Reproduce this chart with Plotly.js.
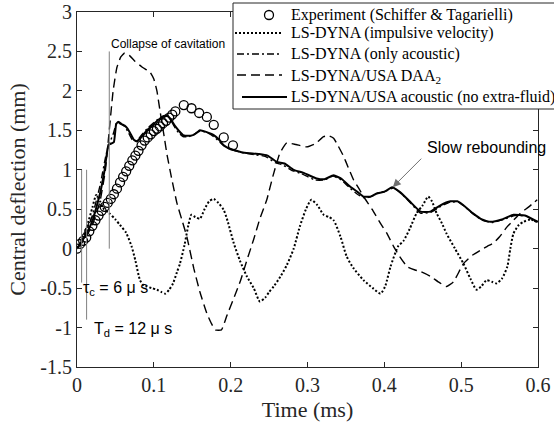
<!DOCTYPE html>
<html>
<head>
<meta charset="utf-8">
<script src="https://cdn.plot.ly/plotly-3.0.1.min.js"></script>
<style>
  html, body { margin: 0; padding: 0; background: #fff; }
  #chart { width: 554px; height: 430px; }
</style>
</head>
<body>
<div id="chart"></div>
<script>
// ---- Data ----
const seriesNames = [
  "Experiment (Schiffer &amp; Tagarielli)",
  "LS-DYNA (impulsive velocity)",
  "LS-DYNA (only acoustic)",
  "LS-DYNA/USA DAA<sub>2</sub>",
  "LS-DYNA/USA acoustic (no extra-fluid)"
];

const expT = [0, 0.004, 0.008, 0.012, 0.016, 0.020, 0.024, 0.028, 0.032, 0.036, 0.040, 0.044, 0.048, 0.052, 0.056, 0.060, 0.064, 0.068, 0.072, 0.076, 0.080, 0.084, 0.088, 0.092, 0.096, 0.100, 0.104, 0.108, 0.112, 0.116, 0.120, 0.124, 0.128, 0.139, 0.149, 0.159, 0.169, 0.178, 0.191, 0.203];
const expY = [0, 0.06, 0.10, 0.14, 0.22, 0.29, 0.36, 0.42, 0.48, 0.53, 0.58, 0.63, 0.69, 0.76, 0.84, 0.91, 0.98, 1.05, 1.12, 1.18, 1.24, 1.31, 1.37, 1.41, 1.45, 1.49, 1.52, 1.55, 1.59, 1.62, 1.66, 1.70, 1.74, 1.82, 1.78, 1.72, 1.67, 1.57, 1.41, 1.31];

const impT = [0, 0.008, 0.015, 0.020, 0.025, 0.030, 0.035, 0.042, 0.050, 0.056, 0.064, 0.071, 0.076, 0.082, 0.087, 0.091, 0.097, 0.104, 0.110, 0.115, 0.120, 0.125, 0.130, 0.134, 0.140, 0.145, 0.149, 0.154, 0.160, 0.166, 0.172, 0.178, 0.184, 0.191, 0.196, 0.204, 0.212, 0.221, 0.230, 0.238, 0.245, 0.250, 0.256, 0.265, 0.273, 0.282, 0.290, 0.298, 0.305, 0.313, 0.321, 0.328, 0.334, 0.343, 0.351, 0.360, 0.373, 0.385, 0.395, 0.401, 0.408, 0.418, 0.425, 0.433, 0.442, 0.450, 0.457, 0.462, 0.468, 0.475, 0.481, 0.492, 0.503, 0.512, 0.520, 0.526, 0.533, 0.540, 0.546, 0.553, 0.560, 0.564, 0.568, 0.575, 0.581, 0.590, 0.599];
const impY = [0, 0.15, 0.35, 0.52, 0.68, 0.60, 0.50, 0.45, 0.37, 0.30, 0.20, 0.03, -0.15, -0.40, -0.47, -0.48, -0.50, -0.52, -0.55, -0.57, -0.52, -0.44, -0.30, -0.19, 0.05, 0.30, 0.43, 0.40, 0.38, 0.50, 0.60, 0.63, 0.58, 0.49, 0.35, 0.07, -0.15, -0.35, -0.50, -0.67, -0.62, -0.55, -0.48, -0.35, -0.21, 0.00, 0.28, 0.50, 0.62, 0.55, 0.43, 0.40, 0.36, 0.15, -0.10, -0.25, -0.40, -0.50, -0.57, -0.48, -0.23, 0.03, 0.10, 0.25, 0.45, 0.55, 0.66, 0.60, 0.45, 0.32, 0.19, 0.00, -0.19, -0.38, -0.52, -0.48, -0.40, -0.42, -0.44, -0.38, -0.23, 0.00, 0.19, 0.30, 0.34, 0.37, 0.34];

const acoT = [0, 0.010, 0.020, 0.030, 0.038, 0.042, 0.047, 0.052, 0.057, 0.062, 0.067, 0.072, 0.078, 0.084, 0.091, 0.100, 0.108, 0.114, 0.120, 0.126, 0.132, 0.138, 0.145, 0.151, 0.157, 0.162, 0.170, 0.178, 0.186, 0.193, 0.200, 0.210, 0.220, 0.232, 0.245, 0.258, 0.268, 0.280, 0.292, 0.310, 0.322, 0.333, 0.344, 0.355, 0.365, 0.375, 0.385, 0.393, 0.402, 0.412, 0.422, 0.435, 0.447, 0.460, 0.474, 0.486, 0.496, 0.505, 0.517, 0.528, 0.540, 0.555, 0.570, 0.585, 0.600];
const acoY = [0, 0.18, 0.42, 0.80, 1.20, 1.33, 1.45, 1.60, 1.58, 1.55, 1.47, 1.38, 1.37, 1.44, 1.52, 1.60, 1.66, 1.69, 1.66, 1.56, 1.47, 1.42, 1.42, 1.44, 1.48, 1.49, 1.47, 1.42, 1.35, 1.29, 1.26, 1.23, 1.21, 1.19, 1.17, 1.09, 1.06, 0.99, 0.95, 0.87, 0.87, 0.92, 0.87, 0.77, 0.69, 0.64, 0.67, 0.71, 0.73, 0.77, 0.70, 0.57, 0.45, 0.46, 0.54, 0.59, 0.59, 0.53, 0.43, 0.36, 0.33, 0.37, 0.42, 0.41, 0.32];

const daaT = [0, 0.010, 0.020, 0.030, 0.037, 0.042, 0.047, 0.052, 0.057, 0.062, 0.068, 0.075, 0.085, 0.095, 0.100, 0.104, 0.108, 0.113, 0.117, 0.123, 0.130, 0.137, 0.143, 0.152, 0.160, 0.169, 0.175, 0.180, 0.188, 0.195, 0.204, 0.213, 0.221, 0.230, 0.238, 0.247, 0.255, 0.264, 0.273, 0.285, 0.299, 0.310, 0.321, 0.328, 0.334, 0.340, 0.347, 0.353, 0.360, 0.367, 0.373, 0.384, 0.395, 0.403, 0.412, 0.420, 0.430, 0.440, 0.447, 0.460, 0.470, 0.481, 0.490, 0.503, 0.515, 0.525, 0.534, 0.542, 0.550, 0.560, 0.568, 0.577, 0.588, 0.599];
const daaY = [0, 0.12, 0.30, 0.60, 1.00, 1.50, 2.00, 2.30, 2.43, 2.48, 2.45, 2.38, 2.30, 2.24, 2.15, 2.00, 1.75, 1.45, 1.20, 0.90, 0.58, 0.35, 0.15, -0.25, -0.55, -0.82, -0.95, -1.03, -1.03, -0.85, -0.63, -0.40, -0.15, 0.12, 0.38, 0.62, 0.92, 1.21, 1.34, 1.32, 1.29, 1.33, 1.42, 1.43, 1.40, 1.30, 1.17, 1.03, 0.87, 0.76, 0.66, 0.50, 0.32, 0.20, 0.03, -0.10, -0.23, -0.27, -0.29, -0.35, -0.42, -0.48, -0.42, -0.19, -0.08, -0.02, 0.03, 0.07, 0.15, 0.28, 0.36, 0.45, 0.53, 0.62];

const usaT = [0, 0.010, 0.020, 0.030, 0.036, 0.041, 0.044, 0.048, 0.051, 0.054, 0.058, 0.062, 0.066, 0.070, 0.074, 0.078, 0.084, 0.091, 0.100, 0.108, 0.117, 0.122, 0.128, 0.133, 0.138, 0.145, 0.151, 0.156, 0.160, 0.168, 0.178, 0.185, 0.191, 0.198, 0.204, 0.215, 0.225, 0.237, 0.248, 0.260, 0.270, 0.282, 0.295, 0.312, 0.322, 0.334, 0.345, 0.355, 0.365, 0.373, 0.382, 0.390, 0.400, 0.410, 0.420, 0.433, 0.447, 0.460, 0.473, 0.486, 0.495, 0.503, 0.515, 0.527, 0.538, 0.553, 0.568, 0.583, 0.600];
const usaY = [0, 0.15, 0.35, 0.70, 1.00, 1.32, 1.33, 1.35, 1.58, 1.61, 1.58, 1.56, 1.52, 1.45, 1.38, 1.36, 1.42, 1.50, 1.58, 1.65, 1.69, 1.64, 1.55, 1.49, 1.44, 1.43, 1.44, 1.47, 1.50, 1.48, 1.44, 1.38, 1.31, 1.27, 1.25, 1.22, 1.21, 1.20, 1.18, 1.10, 1.08, 1.00, 0.96, 0.89, 0.88, 0.93, 0.88, 0.79, 0.72, 0.66, 0.66, 0.70, 0.72, 0.78, 0.72, 0.60, 0.47, 0.47, 0.55, 0.60, 0.60, 0.55, 0.45, 0.37, 0.34, 0.37, 0.43, 0.42, 0.34];

const xTickVals = [0, 0.1, 0.2, 0.3, 0.4, 0.5, 0.6];
const xTickText = ["0", "0.1", "0.2", "0.3", "0.4", "0.5", "0.6"];
const yTickVals = [-1.5, -1, -0.5, 0, 0.5, 1, 1.5, 2, 2.5, 3];
const yTickText = ["-1.5", "-1", "-0.5", "0", "0.5", "1", "1.5", "2", "2.5", "3"];

// ---- Styles ----
const serif = "Liberation Serif, Times New Roman, serif";
const sans = "Liberation Sans, Arial, sans-serif";
const DOT = "2px,2px", DASHDOT = "7px,3px,2px,3px", DASH = "9px,5px";

const traces = [
  { x: expT, y: expY, name: seriesNames[0], type: "scatter", mode: "markers",
    marker: { symbol: "circle-open", size: 9, color: "#000", line: { width: 1.3, color: "#000" } } },
  { x: impT, y: impY, name: seriesNames[1], type: "scatter", mode: "lines",
    line: { color: "#000", width: 2, dash: DOT, shape: "spline", smoothing: 0.6 } },
  { x: acoT, y: acoY, name: seriesNames[2], type: "scatter", mode: "lines",
    line: { color: "#000", width: 1.4, dash: DASHDOT, shape: "spline", smoothing: 0.4 } },
  { x: daaT, y: daaY, name: seriesNames[3], type: "scatter", mode: "lines",
    line: { color: "#000", width: 1.4, dash: DASH, shape: "spline", smoothing: 0.4 } },
  { x: usaT, y: usaY, name: seriesNames[4], type: "scatter", mode: "lines",
    line: { color: "#000", width: 2, shape: "spline", smoothing: 0.4 } }
];

// ---- Layout geometry (plot area in pixels) ----
const M = { l: 77, r: 16, t: 12, b: 63 };
const W = 554 - M.l - M.r, H = 430 - M.t - M.b;
const fx = px => (px - M.l) / W;
const fy = py => 1 - (py - M.t) / H;

// custom legend box (drawn with shapes + annotations)
const legRows = [15, 33, 54, 75, 97];
const legSample = [[0, 0], [235, 281], [237, 282], [237, 282], [242, 287]];
const legDash = [null, DOT, DASHDOT, DASH, "solid"];
const legWidth = [0, 2, 1.4, 1.4, 2];

const shapes = [
  { type: "line", xref: "x", yref: "y", x0: 0.042, x1: 0.042, y0: 0, y1: 2.5, line: { color: "#808080", width: 1 } },
  { type: "line", xref: "x", yref: "y", x0: 0.006, x1: 0.006, y0: -0.43, y1: 1.0, line: { color: "#808080", width: 1 } },
  { type: "line", xref: "x", yref: "y", x0: 0.0125, x1: 0.0125, y0: -0.9, y1: 1.0, line: { color: "#808080", width: 1 } },
  { type: "rect", xref: "paper", yref: "paper", x0: fx(233), x1: fx(557), y0: fy(109), y1: fy(3),
    fillcolor: "#fff", line: { color: "#262626", width: 1 }, layer: "above" },
  { type: "circle", xref: "paper", yref: "paper", xsizemode: "pixel", ysizemode: "pixel",
    xanchor: fx(269), yanchor: fy(legRows[0]), x0: -4.5, x1: 4.5, y0: -4.5, y1: 4.5,
    line: { color: "#000", width: 1.3 }, layer: "above" }
];
for (let i = 1; i < 5; i++) {
  shapes.push({ type: "line", xref: "paper", yref: "paper",
    x0: fx(legSample[i][0]), x1: fx(legSample[i][1]), y0: fy(legRows[i]), y1: fy(legRows[i]),
    line: { color: "#000", width: legWidth[i], dash: legDash[i] }, layer: "above" });
}

const annotations = [
  { xref: "x", yref: "y", x: 0.119, y: 2.59, text: "Collapse of cavitation", showarrow: false,
    font: { family: sans, size: 12, color: "#000" } },
  { xref: "x", yref: "y", x: 0.0055, y: -0.50, xanchor: "left", text: "τ<sub>c</sub> = 6 μ s", showarrow: false,
    font: { family: sans, size: 16, color: "#000" } },
  { xref: "x", yref: "y", x: 0.020, y: -1.02, xanchor: "left", text: "T<sub>d</sub> = 12 μ s", showarrow: false,
    font: { family: sans, size: 16, color: "#000" } },
  { xref: "x", yref: "y", x: 0.533, y: 1.28, text: "Slow rebounding", showarrow: false,
    font: { family: sans, size: 16, color: "#000" } },
  { xref: "x", yref: "y", x: 0.411, y: 0.78, ax: 0.45, ay: 1.16, axref: "x", ayref: "y",
    text: "", showarrow: true, arrowhead: 2, arrowsize: 1.6, arrowwidth: 1, arrowcolor: "#707070" }
];
for (let i = 0; i < 5; i++) {
  annotations.push({ xref: "paper", yref: "paper", x: fx(289), y: fy(legRows[i] + (i === 3 ? 2 : 0)),
    xanchor: "left", yanchor: "middle", text: seriesNames[i], showarrow: false,
    font: { family: serif, size: 16, color: "#000" } });
}

const layout = {
  width: 554, height: 430,
  margin: M,
  paper_bgcolor: "#fff", plot_bgcolor: "#fff",
  showlegend: false,
  xaxis: {
    range: [0, 0.6], tickvals: xTickVals, ticktext: xTickText,
    ticks: "inside", ticklen: 5, tickcolor: "#262626",
    showline: true, linecolor: "#262626", linewidth: 1, mirror: "ticks",
    showgrid: false, zeroline: false,
    tickfont: { family: serif, size: 20, color: "#262626" },
    title: { text: "Time (ms)", font: { family: serif, size: 22, color: "#262626" }, standoff: 6 }
  },
  yaxis: {
    range: [-1.5, 3], tickvals: yTickVals, ticktext: yTickText,
    ticks: "inside", ticklen: 5, tickcolor: "#262626",
    showline: true, linecolor: "#262626", linewidth: 1, mirror: "ticks",
    showgrid: false, zeroline: false,
    tickfont: { family: serif, size: 20, color: "#262626" },
    title: { text: "Central deflection (mm)", font: { family: serif, size: 22, color: "#262626" }, standoff: 8 }
  },
  shapes: shapes,
  annotations: annotations
};

Plotly.newPlot("chart", traces, layout, { displayModeBar: false, staticPlot: true });
</script>
</body>
</html>
